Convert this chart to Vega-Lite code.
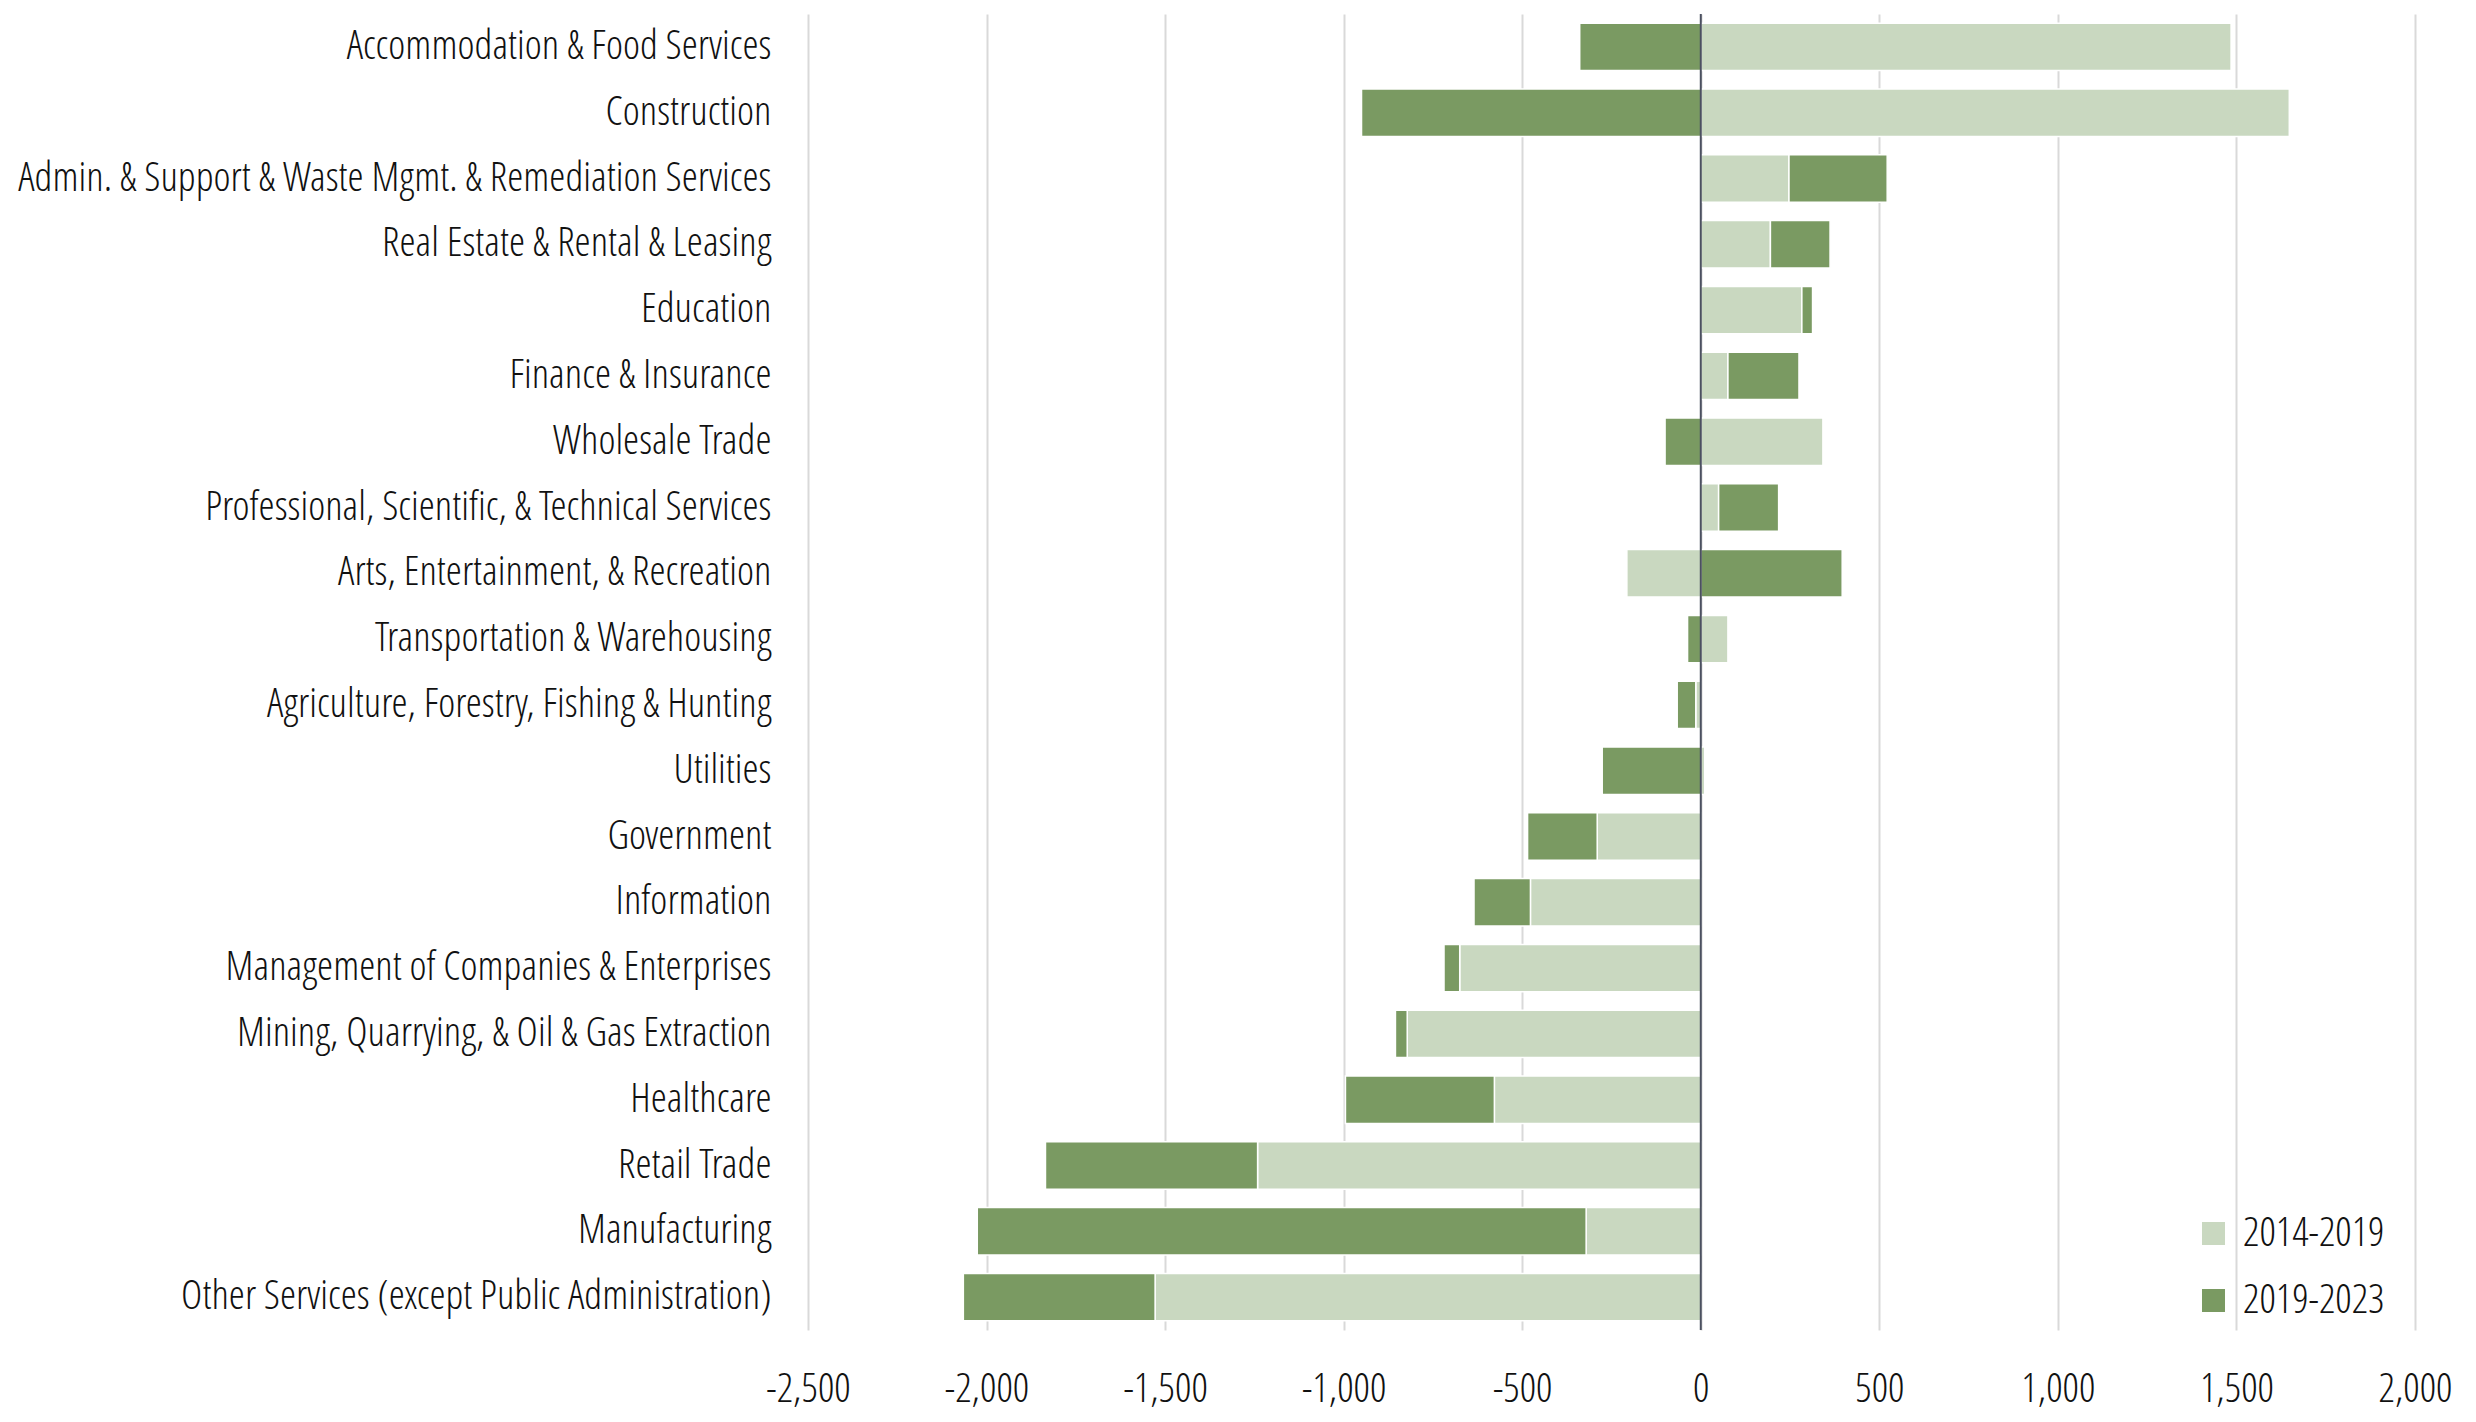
{
  "$schema": "https://vega.github.io/schema/vega-lite/v6.json",
  "width": 1607,
  "height": 1316,
  "autosize": {"type": "none"},
  "padding": {"left": 808, "top": 14, "right": 61, "bottom": 92},
  "background": "white",
  "config": {"view": {"stroke": null}, "font": "'Open Sans Condensed Light', 'Open Sans Condensed', 'DejaVu Sans Condensed', 'Roboto Condensed', 'Liberation Sans Narrow', 'Open Sans', sans-serif"},
  "data": {
    "values": [
      {"industry": "Accommodation & Food Services", "period": "2014-2019", "change": 1485},
      {"industry": "Accommodation & Food Services", "period": "2019-2023", "change": -339},
      {"industry": "Construction", "period": "2014-2019", "change": 1648},
      {"industry": "Construction", "period": "2019-2023", "change": -950},
      {"industry": "Admin. & Support & Waste Mgmt. & Remediation Services", "period": "2014-2019", "change": 247},
      {"industry": "Admin. & Support & Waste Mgmt. & Remediation Services", "period": "2019-2023", "change": 275},
      {"industry": "Real Estate & Rental & Leasing", "period": "2014-2019", "change": 195},
      {"industry": "Real Estate & Rental & Leasing", "period": "2019-2023", "change": 167},
      {"industry": "Education", "period": "2014-2019", "change": 283},
      {"industry": "Education", "period": "2019-2023", "change": 30},
      {"industry": "Finance & Insurance", "period": "2014-2019", "change": 76},
      {"industry": "Finance & Insurance", "period": "2019-2023", "change": 199},
      {"industry": "Wholesale Trade", "period": "2014-2019", "change": 342},
      {"industry": "Wholesale Trade", "period": "2019-2023", "change": -100},
      {"industry": "Professional, Scientific, & Technical Services", "period": "2014-2019", "change": 50},
      {"industry": "Professional, Scientific, & Technical Services", "period": "2019-2023", "change": 168},
      {"industry": "Arts, Entertainment, & Recreation", "period": "2014-2019", "change": -207},
      {"industry": "Arts, Entertainment, & Recreation", "period": "2019-2023", "change": 396},
      {"industry": "Transportation & Warehousing", "period": "2014-2019", "change": 76},
      {"industry": "Transportation & Warehousing", "period": "2019-2023", "change": -37},
      {"industry": "Agriculture, Forestry, Fishing & Hunting", "period": "2014-2019", "change": -14},
      {"industry": "Agriculture, Forestry, Fishing & Hunting", "period": "2019-2023", "change": -52},
      {"industry": "Utilities", "period": "2014-2019", "change": 11},
      {"industry": "Utilities", "period": "2019-2023", "change": -276},
      {"industry": "Government", "period": "2014-2019", "change": -290},
      {"industry": "Government", "period": "2019-2023", "change": -195},
      {"industry": "Information", "period": "2014-2019", "change": -477},
      {"industry": "Information", "period": "2019-2023", "change": -158},
      {"industry": "Management of Companies & Enterprises", "period": "2014-2019", "change": -675},
      {"industry": "Management of Companies & Enterprises", "period": "2019-2023", "change": -44},
      {"industry": "Mining, Quarrying, & Oil & Gas Extraction", "period": "2014-2019", "change": -822},
      {"industry": "Mining, Quarrying, & Oil & Gas Extraction", "period": "2019-2023", "change": -33},
      {"industry": "Healthcare", "period": "2014-2019", "change": -578},
      {"industry": "Healthcare", "period": "2019-2023", "change": -417},
      {"industry": "Retail Trade", "period": "2014-2019", "change": -1241},
      {"industry": "Retail Trade", "period": "2019-2023", "change": -594},
      {"industry": "Manufacturing", "period": "2014-2019", "change": -321},
      {"industry": "Manufacturing", "period": "2019-2023", "change": -1705},
      {"industry": "Other Services (except Public Administration)", "period": "2014-2019", "change": -1528},
      {"industry": "Other Services (except Public Administration)", "period": "2019-2023", "change": -537}
    ]
  },
  "layer": [
    {
      "mark": {"type": "bar", "stroke": "white", "strokeWidth": 1.5},
      "encoding": {
        "y": {
          "field": "industry",
          "type": "nominal",
          "sort": null,
          "scale": {"paddingInner": 0.28, "paddingOuter": 0.14},
          "axis": {
            "title": null,
            "ticks": false,
            "domain": false,
            "labelFontSize": 41,
            "labelFontWeight": 300,
            "labelPadding": 37,
            "labelColor": "#111111",
            "labelLimit": 0
          }
        },
        "x": {
          "field": "change",
          "type": "quantitative",
          "stack": "zero",
          "scale": {"domain": [-2500, 2000], "nice": false, "zero": false},
          "axis": {
            "title": null,
            "values": [-2500, -2000, -1500, -1000, -500, 0, 500, 1000, 1500, 2000],
            "grid": true,
            "gridColor": "#d9d9d9",
            "gridWidth": 2,
            "domain": false,
            "ticks": false,
            "labelFlush": false,
            "labelFontSize": 41,
            "labelFontWeight": 300,
            "labelPadding": 39,
            "labelColor": "#111111",
            "labelExpr": "(datum.value < 0 ? '-' : '') + format(abs(datum.value), ',')"
          }
        },
        "color": {
          "field": "period",
          "type": "nominal",
          "scale": {"domain": ["2014-2019", "2019-2023"], "range": ["#c9d8c0", "#7a9a62"]},
          "legend": {
            "title": null,
            "orient": "none",
            "legendX": 1385,
            "legendY": 1199,
            "symbolType": "square",
            "symbolSize": 530,
            "symbolStrokeWidth": 0,
            "labelFontSize": 41,
            "labelFontWeight": 300,
            "labelOffset": 9,
            "rowPadding": 25,
            "labelColor": "#111111"
          }
        },
        "order": {"field": "period", "sort": "ascending"}
      }
    },
    {
      "data": {"values": [{}]},
      "mark": {"type": "rule", "color": "#4b5060", "strokeWidth": 2},
      "encoding": {"x": {"datum": 0}}
    }
  ]
}
